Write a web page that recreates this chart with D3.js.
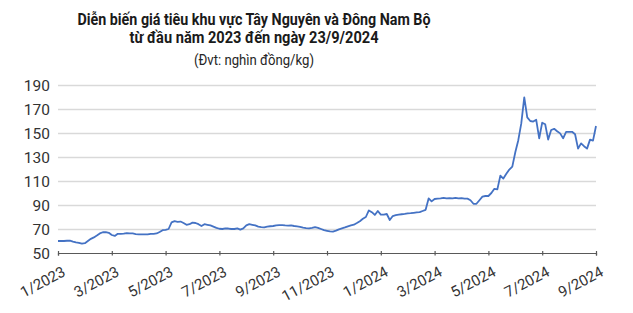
<!DOCTYPE html>
<html>
<head>
<meta charset="utf-8">
<script src="https://cdn.jsdelivr.net/npm/d3@7"></script>
<style>
  html, body { margin: 0; padding: 0; background: #fff; }
  svg { display: block; }
</style>
</head>
<body>
<script>
// ---- Data ----
const titleLines = ["Diễn biến giá tiêu khu vực Tây Nguyên và Đông Nam Bộ", "từ đầu năm 2023 đến ngày 23/9/2024"];
const subtitle = "(Đvt: nghìn đồng/kg)";
const xTickLabels = ["1/2023","3/2023","5/2023","7/2023","9/2023","11/2023","1/2024","3/2024","5/2024","7/2024","9/2024"];
const yTicks = [50, 70, 90, 110, 130, 150, 170, 190];
const prices = [
  60, 60, 60, 60.2, 60.3, 59.5, 58.8, 58.5, 57.8, 58.2,
  60, 61.8, 63, 64.5, 66.3, 67.3, 67.4, 66.8, 65, 64.2,
  66, 66, 66.2, 66.6, 66.4, 66.3, 65.8, 65.6, 65.5, 65.6,
  65.5, 66, 66, 66.3, 67.5, 69, 69.3, 70, 75.5, 76.5,
  76, 76.2, 75, 73.5, 74, 75.3, 75, 74, 72.5, 74,
  73.5, 73, 72, 71, 70.2, 70, 70.5, 70.4, 70, 70,
  70.5, 69.5, 70.5, 73, 74, 73.5, 73, 72, 71.6, 71.4,
  72, 72.3, 72.5, 73, 73.3, 73.3, 73, 72.8, 73, 72.5,
  72.2, 71.8, 71.2, 70.8, 70.5, 71, 71.6, 71, 70, 69,
  68.5, 68, 67.8, 68.6, 69.7, 70.5, 71.3, 72.2, 73, 73.6,
  75, 76.5, 78.5, 80, 85.5, 84, 81.7, 85, 82, 82,
  82.5, 77.5, 80.8, 81.5, 82, 82.3, 82.6, 83, 83.2, 83.5,
  83.8, 84, 85, 86, 95.5, 93, 95, 95.3, 95.6, 96,
  95.5, 95.8, 95.5, 96, 95.5, 95.8, 95.3, 95.3, 94, 91,
  91, 94, 97, 97.5, 97.5, 100, 103.5, 103, 114.5, 112,
  116, 119.5, 122, 134, 144, 158, 179.7, 163, 160, 159.5,
  161, 145.6, 158.6, 157.3, 144.5, 152.5, 153.5, 151.5, 149.7, 145.6,
  151, 151, 151, 149, 137, 141.4, 139, 137, 144.5, 143.7,
  155.8
];

// ---- Layout ----
const W = 633, H = 313;
const mLeft = 58, mRight = 596, mTop = 85, mBottom = 253;
const font = "Roboto, 'Liberation Sans', Arial, sans-serif";

const svg = d3.select("body").append("svg").attr("width", W).attr("height", H);

// Title
const cx = 254;
svg.append("text").attr("x", cx).attr("y", 24.5).attr("text-anchor", "middle")
  .attr("font-family", font).attr("font-weight", "bold").attr("font-size", 16)
  .attr("fill", "#1a1a1a").attr("textLength", 353).attr("lengthAdjust", "spacingAndGlyphs")
  .text(titleLines[0]);
svg.append("text").attr("x", cx).attr("y", 42.5).attr("text-anchor", "middle")
  .attr("font-family", font).attr("font-weight", "bold").attr("font-size", 16)
  .attr("fill", "#1a1a1a").attr("textLength", 249).attr("lengthAdjust", "spacingAndGlyphs")
  .text(titleLines[1]);
svg.append("text").attr("x", cx).attr("y", 64.5).attr("text-anchor", "middle")
  .attr("font-family", font).attr("font-size", 14.5)
  .attr("fill", "#262626").attr("textLength", 120).attr("lengthAdjust", "spacingAndGlyphs")
  .text(subtitle);

// Scales
const n = prices.length;
const x = d3.scaleLinear().domain([0, n - 1]).range([mLeft, mRight]);
const y = d3.scaleLinear().domain([50, 190]).range([mBottom, mTop]);
const tickIdx = xTickLabels.map((_, k) => k * (n - 1) / (xTickLabels.length - 1));

// Gridlines
const grid = svg.append("g").attr("transform", `translate(${mLeft},0)`)
  .call(d3.axisLeft(y).tickValues(yTicks.filter(v => v > 50)).tickSize(-(mRight - mLeft)).tickFormat(""));
grid.select(".domain").remove();
grid.selectAll(".tick line").attr("stroke", "#d9d9d9").attr("stroke-width", 1.3);

// Y labels
const yAx = svg.append("g").attr("transform", `translate(${mLeft - 8},0)`)
  .call(d3.axisLeft(y).tickValues(yTicks).tickSize(0).tickPadding(0));
yAx.select(".domain").remove();
yAx.selectAll("text").attr("font-family", font).attr("font-size", 15.5).attr("fill", "#333")
  .attr("dy", "0.35em");

// X axis
const xAx = svg.append("g").attr("transform", `translate(0,${mBottom})`)
  .call(d3.axisBottom(x).tickValues(tickIdx).tickSize(2.5).tickFormat((d, i) => xTickLabels[i]));
xAx.select(".domain").attr("stroke", "#595959").attr("stroke-width", 1.2);
xAx.selectAll(".tick line").attr("stroke", "#595959").attr("stroke-width", 1.2).attr("y1", -2);
xAx.selectAll("text")
  .attr("font-family", font).attr("font-size", 15).attr("fill", "#333")
  .attr("text-anchor", "end").attr("dy", null).attr("y", null)
  .attr("transform", "translate(8,22) rotate(-28)");

// Line
svg.append("path").datum(prices)
  .attr("fill", "none").attr("stroke", "#4472C4").attr("stroke-width", 1.8)
  .attr("stroke-linejoin", "round")
  .attr("d", d3.line().x((d, i) => x(i)).y(d => y(d)));
</script>
</body>
</html>
